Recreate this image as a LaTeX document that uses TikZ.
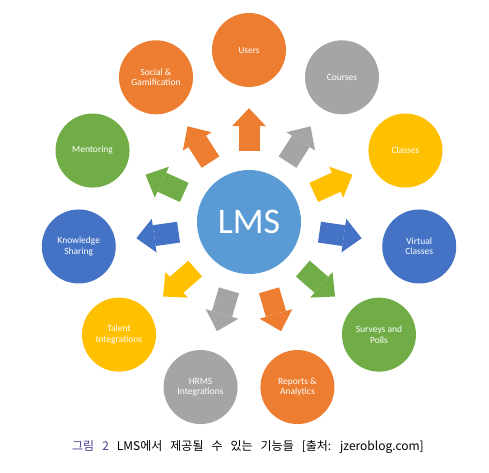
\documentclass[tikz,border=0pt]{standalone}
\usepackage{fontspec}
\setmainfont{Carlito}
\newfontfamily\krfont{Noto Sans CJK KR}
\usetikzlibrary{arrows.meta}
\usetikzlibrary{positioning}

\definecolor{lmsblue}{HTML}{5B9BD5}
\definecolor{offorange}{HTML}{ED7D31}
\definecolor{offgray}{HTML}{A5A5A5}
\definecolor{offyellow}{HTML}{FFC000}
\definecolor{offblue}{HTML}{4472C4}
\definecolor{offgreen}{HTML}{70AD47}
\definecolor{capviolet}{HTML}{4B3D91}

\begin{document}
\begin{tikzpicture}[
  x=1pt, y=1pt,
  hub/.style={circle, fill=lmsblue, minimum size=104pt, inner sep=0pt, text=white, font=\fontsize{36}{40}\selectfont},
  feature/.style={circle, minimum size=74pt, inner sep=0pt, align=center, text=white, font=\fontsize{9.5}{10.5}\selectfont},
  spoke/.style={line width=21pt, -{Triangle[length=18pt, width=34pt, line width=0pt]}, shorten <=19pt, shorten >=21pt}
]
\useasboundingbox (-249,-250) rectangle (240,222);

% Centre
\node[hub] (lms) at (0,0) {LMS};

% Features round the centre
\foreach \name/\ang/\col/\txt in {
  users/90/offorange/Users,
  courses/57.27/offgray/Courses,
  classes/24.55/offyellow/Classes,
  virtual/-8.18/offblue/{Virtual\\Classes},
  surveys/-40.91/offgreen/{Surveys and\\Polls},
  reports/-73.64/offorange/{Reports \&\\Analytics},
  hrms/-106.36/offgray/{HRMS\\Integrations},
  talent/-139.09/offyellow/{Talent\\Integrations},
  knowledge/-171.82/offblue/{Knowledge\\Sharing},
  mentoring/155.45/offgreen/Mentoring,
  social/122.73/offorange/{Social \&\\Gamification}}
{
  \node[feature, fill=\col] (\name) at (\ang:172) {\txt};
  \draw[spoke, draw=\col] (lms) -- (\name);
}

% Caption
\node[font=\krfont\fontsize{12}{14}\selectfont] (caption) at (-1,-225)
  {\spaceskip=8pt\textcolor{capviolet}{그림 2} LMS에서 제공될 수 있는 기능들 [출처: jzeroblog.com]};

\end{tikzpicture}
\end{document}
